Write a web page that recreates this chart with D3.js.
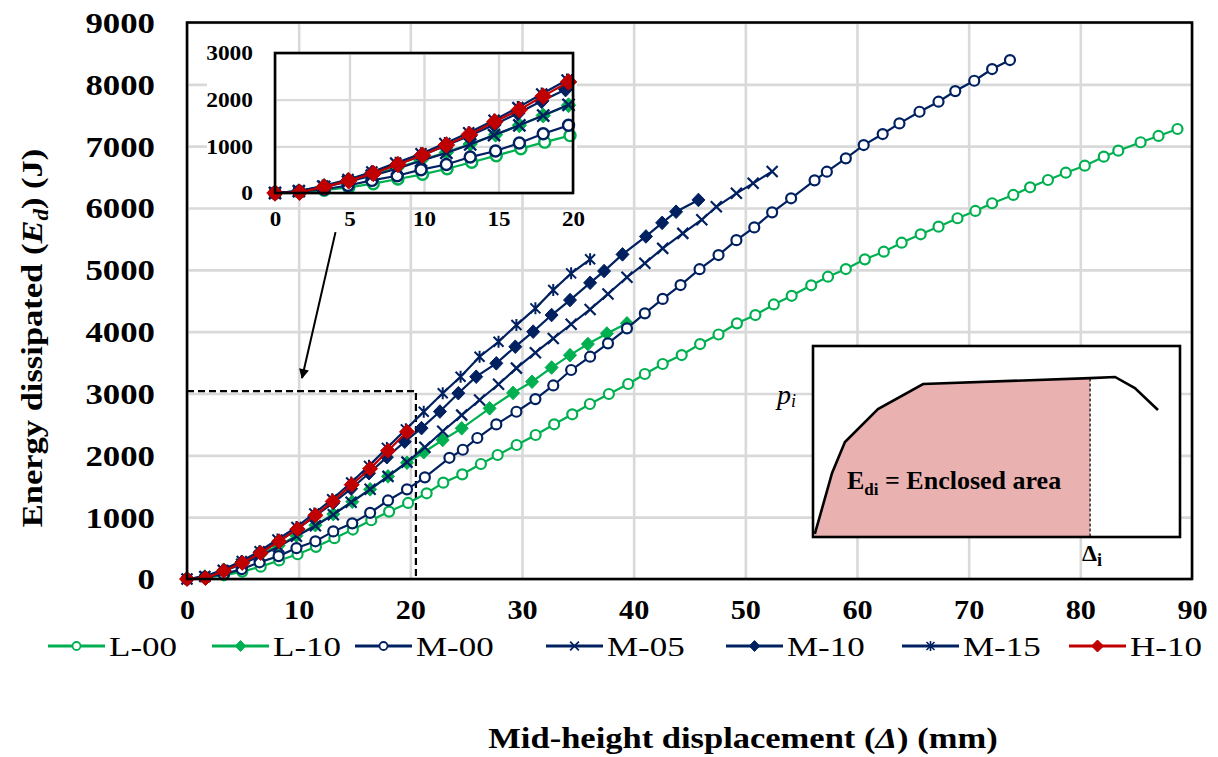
<!DOCTYPE html>
<html><head><meta charset="utf-8">
<script src="https://cdn.jsdelivr.net/npm/d3@7"></script>
<style>
body{margin:0;background:#fff;}
svg{display:block;}
text{font-family:"Liberation Serif","Times New Roman",serif;}
</style>
</head><body>
<svg id="c" width="1218" height="757"></svg>
<script>
// ---------------- DATA ----------------
const xTicks = [0,10,20,30,40,50,60,70,80,90];
const yTicks = [0,1000,2000,3000,4000,5000,6000,7000,8000,9000];
const insetXTicks = [0,5,10,15,20];
const insetYTicks = [0,1000,2000,3000];
const seriesNames = ["L-00","L-10","M-00","M-05","M-10","M-15","H-10"];

const dispL00 = [0,1.65,3.3,4.95,6.6,8.25,9.9,11.55,13.2,14.85,16.5,18.1,19.8,21.46,22.95,24.65,26.32,27.82,29.52,31.22,32.88,34.5,36.08,37.78,39.51,41.0,42.6,44.3,45.95,47.6,49.25,50.9,52.55,54.15,55.9,57.4,59.0,60.7,62.4,64.0,65.7,67.3,69.0,70.6,72.1,74.0,75.5,77.1,78.7,80.4,82.1,83.4,85.4,87.0,88.7];
const energyL00 = [0,20,60,120,200,300,400,520,660,800,950,1090,1230,1386,1558,1693,1860,2005,2167,2329,2502,2664,2830,2992,3154,3315,3477,3622,3800,3954,4135,4269,4440,4580,4750,4889,5013,5170,5293,5439,5575,5698,5834,5952,6077,6211,6335,6453,6571,6684,6830,6927,7063,7165,7278];

const dispL10 = [0,1.6,3.3,4.9,6.6,8.2,9.8,11.5,13.1,14.8,16.4,18.0,19.7,21.2,22.9,24.6,27.1,29.2,30.9,32.65,34.3,35.9,37.6,39.4];
const energyL10 = [0,40,150,270,400,540,700,870,1050,1250,1450,1660,1880,2050,2248,2437,2760,3010,3190,3420,3620,3800,3970,4135];

const dispM00 = [0,1.6,3.3,4.9,6.5,8.2,9.8,11.5,13.1,14.8,16.4,18.0,19.7,21.3,23.5,24.7,26.0,27.7,29.5,31.2,32.8,34.4,36.1,37.7,39.4,41.0,42.6,44.2,45.9,47.6,49.2,50.8,52.4,54.1,56.2,57.3,59.0,60.6,62.3,63.8,65.6,67.3,68.8,70.5,72.1,73.7];
const energyM00 = [0,30,80,160,270,370,500,610,770,900,1070,1270,1450,1644,1960,2090,2280,2500,2705,2910,3130,3380,3595,3811,4054,4296,4530,4754,5010,5239,5480,5686,5930,6157,6447,6587,6803,7018,7196,7368,7557,7719,7891,8058,8247,8393];

const dispM05 = [0,1.6,3.3,4.9,6.5,8.2,9.8,11.5,13.1,14.7,16.4,18.0,19.7,21.3,22.9,24.6,26.2,27.9,29.5,31.2,32.8,34.4,36.1,37.7,39.4,41.0,42.6,44.4,46.1,47.4,49.2,50.7,52.4];
const energyM05 = [0,40,130,240,370,520,690,860,1040,1240,1450,1660,1890,2130,2390,2650,2895,3150,3410,3660,3890,4120,4360,4610,4880,5105,5347,5590,5810,6020,6237,6399,6590];

const dispM10 = [0,1.6,3.3,4.9,6.5,8.2,9.8,11.4,13.1,14.7,16.3,17.9,19.5,21.0,22.65,24.3,25.9,27.7,29.4,31.0,32.65,34.3,36.1,37.35,39.0,41.1,42.55,43.8,45.8];
const energyM10 = [0,30,140,275,430,610,800,1010,1230,1460,1710,1970,2220,2440,2708,3005,3272,3488,3757,4000,4269,4511,4790,4980,5250,5540,5760,5940,6130];

const dispM15 = [0,1.6,3.2,4.9,6.5,8.1,9.8,11.4,13.0,14.7,16.3,17.9,19.6,21.2,22.9,24.5,26.2,27.9,29.5,31.2,32.8,34.4,36.1];
const energyM15 = [0,40,150,290,450,640,840,1060,1290,1560,1830,2120,2420,2705,3003,3272,3595,3837,4107,4377,4673,4943,5170];

const dispH10 = [0,1.65,3.3,4.95,6.6,8.25,9.9,11.5,13.05,14.75,16.4,18.0,19.7];
const energyH10 = [0,15,130,260,420,610,810,1030,1255,1525,1785,2075,2380];

// schematic curve in the lower-right inset (relative units 0-100)
const schemX = [0.5,5.2,8.7,17.7,30,75.5,82.3,87.7,94];
const schemY = [1.6,33.5,49.7,67,80.1,83.2,83.8,78,66.5];
const schemDeltaI = 75.5;

// zoom window & arrow (data units)
const zoomBoxX = 20.5, zoomBoxY = 3040;
const arrowFrom = [13.3, 5610], arrowTo = [10.3, 3250];

// ---------------- STYLE ----------------
const GREEN = "#00b050", NAVY = "#002060", RED = "#c00000", GRID = "#d9d9d9";
const styles = {
  "L-00": {color: GREEN, marker: "circle"},
  "L-10": {color: GREEN, marker: "diamond"},
  "M-00": {color: NAVY, marker: "circle"},
  "M-05": {color: NAVY, marker: "x"},
  "M-10": {color: NAVY, marker: "diamond"},
  "M-15": {color: NAVY, marker: "star"},
  "H-10": {color: RED, marker: "diamondBig"}
};
const seriesData = {
  "L-00": [dispL00, energyL00], "L-10": [dispL10, energyL10], "M-00": [dispM00, energyM00],
  "M-05": [dispM05, energyM05], "M-10": [dispM10, energyM10], "M-15": [dispM15, energyM15],
  "H-10": [dispH10, energyH10]
};

const svg = d3.select("#c");
const X = d3.scaleLinear().domain([0,90]).range([187,1192]);
const Y = d3.scaleLinear().domain([0,9000]).range([579,22.5]);

function stretch(sel, k){
  sel.each(function(){
    const w = this.getComputedTextLength();
    this.setAttribute("textLength", w*k);
    this.setAttribute("lengthAdjust","spacingAndGlyphs");
  });
}

function drawMarker(g, type, color, s){
  s = s || 1;
  if(type === "circle"){
    g.append("circle").attr("r",5*s).attr("fill","#fff").attr("stroke",color).attr("stroke-width",2.2*s);
  } else if(type === "diamond" || type === "diamondBig"){
    const a = (type==="diamondBig"?7.5:6.8)*s, b=(type==="diamondBig"?7.5:6.5)*s;
    g.append("path").attr("d",`M0,${-a}L${b},0L0,${a}L${-b},0Z`).attr("fill",color).attr("stroke",color).attr("stroke-width",1);
  } else if(type === "x"){
    const r=5.5*s;
    g.append("path").attr("d",`M${-r},${-r}L${r},${r}M${-r},${r}L${r},${-r}`).attr("stroke",color).attr("stroke-width",2.2*s).attr("fill","none");
  } else if(type === "star"){
    const r=5*s;
    g.append("path").attr("d",`M${-r},${-r}L${r},${r}M${-r},${r}L${r},${-r}M0,${-r-1}L0,${r+1}`).attr("stroke",color).attr("stroke-width",2*s).attr("fill","none");
  }
}

// ---------------- GRID ----------------
svg.append("g").attr("transform",`translate(0,${Y(0)})`)
  .call(d3.axisBottom(X).tickValues(xTicks).tickSize(-(Y(0)-Y(9000))).tickFormat(""))
  .call(g=>g.select(".domain").remove())
  .selectAll("line").attr("stroke",GRID).attr("stroke-width",2.6);
svg.append("g").attr("transform",`translate(${X(0)},0)`)
  .call(d3.axisLeft(Y).tickValues(yTicks).tickSize(-(X(90)-X(0))).tickFormat(""))
  .call(g=>g.select(".domain").remove())
  .selectAll("line").attr("stroke",GRID).attr("stroke-width",2.6);

// ---------------- AXIS LABELS ----------------
const xAx = svg.append("g").attr("transform",`translate(0,${Y(0)})`)
  .call(d3.axisBottom(X).tickValues(xTicks).tickSize(0).tickPadding(20).tickFormat(d3.format("d")));
xAx.select(".domain").remove();
xAx.selectAll("text").attr("font-family","Liberation Serif").attr("font-weight","bold").attr("font-size",28).attr("fill","#000").call(stretch,1.08);

const yAx = svg.append("g").attr("transform",`translate(${X(0)},0)`)
  .call(d3.axisLeft(Y).tickValues(yTicks).tickSize(0).tickPadding(32).tickFormat(d3.format("d")));
yAx.select(".domain").remove();
yAx.selectAll("text").attr("font-family","Liberation Serif").attr("font-weight","bold").attr("font-size",29).attr("fill","#000").attr("dy","0.34em").call(stretch,1.2);

// ---------------- ZOOM BOX + ARROW ----------------
svg.append("path")
  .attr("d",`M${X(0)},${Y(zoomBoxY)}H${X(zoomBoxX)}V${Y(0)}`)
  .attr("fill","none").attr("stroke","#000").attr("stroke-width",2.2).attr("stroke-dasharray","7,4");

svg.append("defs").append("marker").attr("id","ah").attr("viewBox","0 0 10 10")
  .attr("refX",9).attr("refY",5).attr("markerWidth",5.5).attr("markerHeight",5)
  .attr("markerUnits","strokeWidth").attr("orient","auto")
  .append("path").attr("d","M0,0L10,5L0,10Z").attr("fill","#000");
svg.append("line").attr("x1",X(arrowFrom[0])).attr("y1",Y(arrowFrom[1]))
  .attr("x2",X(arrowTo[0])).attr("y2",Y(arrowTo[1]))
  .attr("stroke","#000").attr("stroke-width",2).attr("marker-end","url(#ah)");

// ---------------- SERIES ----------------
function drawSeries(parent, xs, ys, filterMax, ms){
  seriesNames.forEach(name=>{
    const [dx, dy] = seriesData[name];
    const st = styles[name];
    let pts = dx.map((d,i)=>[d, dy[i]]);
    if(filterMax!=null) pts = pts.filter(p=>p[0] <= filterMax);
    const line = d3.line().x(p=>xs(p[0])).y(p=>ys(p[1]));
    parent.append("path").attr("d",line(pts)).attr("fill","none").attr("stroke",st.color).attr("stroke-width",2.2);
    pts.forEach(p=>{
      const g = parent.append("g").attr("transform",`translate(${xs(p[0])},${ys(p[1])})`);
      drawMarker(g, st.marker, st.color, ms);
    });
  });
}
drawSeries(svg.append("g"), X, Y, null, 1);

// frame
svg.append("rect").attr("x",X(0)).attr("y",Y(9000)).attr("width",X(90)-X(0)).attr("height",Y(0)-Y(9000))
  .attr("fill","none").attr("stroke","#000").attr("stroke-width",2.6);

// ---------------- TOP-LEFT INSET ----------------
const Xi = d3.scaleLinear().domain([0,20]).range([275,573]);
const Yi = d3.scaleLinear().domain([0,3000]).range([193,53]);
const ins = svg.append("g");
ins.append("rect").attr("x",207).attr("y",53).attr("width",Xi(20)-207+4).attr("height",Yi(0)-53).attr("fill","#fff");
ins.append("rect").attr("x",Xi(0)).attr("y",Yi(3000)).attr("width",Xi(20)-Xi(0)).attr("height",Yi(0)-Yi(3000)).attr("fill","#fff");
ins.append("g").attr("transform",`translate(0,${Yi(0)})`)
  .call(d3.axisBottom(Xi).tickValues(insetXTicks).tickSize(-(Yi(0)-Yi(3000))).tickFormat(""))
  .call(g=>g.select(".domain").remove())
  .selectAll("line").attr("stroke",GRID).attr("stroke-width",2.4);
ins.append("g").attr("transform",`translate(${Xi(0)},0)`)
  .call(d3.axisLeft(Yi).tickValues(insetYTicks).tickSize(-(Xi(20)-Xi(0))).tickFormat(""))
  .call(g=>g.select(".domain").remove())
  .selectAll("line").attr("stroke",GRID).attr("stroke-width",2.4);
ins.append("clipPath").attr("id","ic").append("rect")
  .attr("x",Xi(0)-10).attr("y",Yi(3000)).attr("width",Xi(20)-Xi(0)+20).attr("height",Yi(0)-Yi(3000)+10);
drawSeries(ins.append("g").attr("clip-path","url(#ic)"), Xi, Yi, 20.5, 1.1);
ins.append("rect").attr("x",Xi(0)).attr("y",Yi(3000)).attr("width",Xi(20)-Xi(0)).attr("height",Yi(0)-Yi(3000))
  .attr("fill","none").attr("stroke","#000").attr("stroke-width",2.6);
const ixAx = ins.append("g").attr("transform",`translate(0,${Yi(0)})`)
  .call(d3.axisBottom(Xi).tickValues(insetXTicks).tickSize(0).tickPadding(19).tickFormat(d3.format("d")));
ixAx.select(".domain").remove();
ixAx.selectAll("text").attr("font-family","Liberation Serif").attr("font-weight","bold").attr("font-size",20).attr("fill","#000").call(stretch,1.15);
const iyAx = ins.append("g").attr("transform",`translate(${Xi(0)},0)`)
  .call(d3.axisLeft(Yi).tickValues(insetYTicks).tickSize(0).tickPadding(22).tickFormat(d3.format("d")));
iyAx.select(".domain").remove();
iyAx.selectAll("text").attr("font-family","Liberation Serif").attr("font-weight","bold").attr("font-size",20).attr("fill","#000").attr("dy","0.34em").call(stretch,1.17);

// ---------------- LOWER-RIGHT SCHEMATIC INSET ----------------
const Xs = d3.scaleLinear().domain([0,100]).range([813,1180]);
const Ys = d3.scaleLinear().domain([0,100]).range([537,346]);
const sch = svg.append("g");
sch.append("rect").attr("x",Xs(0)).attr("y",Ys(100)).attr("width",Xs(100)-Xs(0)).attr("height",Ys(0)-Ys(100)).attr("fill","#fff");
const schPts = schemX.map((d,i)=>[d, schemY[i]]);
const fillPts = schPts.filter(p=>p[0] <= schemDeltaI);
const areaPts = [[fillPts[0][0],0], ...fillPts, [schemDeltaI,0]];
sch.append("path").attr("d", d3.line().x(p=>Xs(p[0])).y(p=>Ys(p[1]))(areaPts)+"Z").attr("fill","#eab1b1");
sch.append("path").attr("d", d3.line().x(p=>Xs(p[0])).y(p=>Ys(p[1]))(schPts)).attr("fill","none").attr("stroke","#000").attr("stroke-width",2.6);
sch.append("line").attr("x1",Xs(schemDeltaI)).attr("x2",Xs(schemDeltaI)).attr("y1",Ys(83)).attr("y2",Ys(0))
  .attr("stroke","#000").attr("stroke-width",1.2).attr("stroke-dasharray","3,2");
sch.append("rect").attr("x",Xs(0)).attr("y",Ys(100)).attr("width",Xs(100)-Xs(0)).attr("height",Ys(0)-Ys(100))
  .attr("fill","none").attr("stroke","#000").attr("stroke-width",2.6);
const eTxt = sch.append("text").attr("x",847).attr("y",489).attr("font-weight","bold").attr("font-size",26).attr("fill","#000");
eTxt.append("tspan").text("E");
eTxt.append("tspan").attr("font-size",17).attr("dy",6).text("di");
eTxt.append("tspan").attr("dy",-6).text(" = Enclosed area");
const pTxt = svg.append("text").attr("x",777).attr("y",404).attr("font-style","italic").attr("font-size",28).attr("fill","#000");
pTxt.append("tspan").text("p");
pTxt.append("tspan").attr("font-size",18).attr("dy",3).text("i");
const dTxt = svg.append("text").attr("x",1082).attr("y",561).attr("font-weight","bold").attr("font-size",24).attr("fill","#000");
dTxt.append("tspan").text("Δ");
dTxt.append("tspan").attr("font-size",18).attr("dy",5).text("i");

// ---------------- LEGEND ----------------
const legendX = [48,212,355,546,726,902,1069];
const legY = 646;
seriesNames.forEach((name,i)=>{
  const st = styles[name];
  const g = svg.append("g").attr("transform",`translate(${legendX[i]},${legY})`);
  g.append("line").attr("x1",0).attr("x2",57).attr("y1",0).attr("y2",0).attr("stroke",st.color).attr("stroke-width",3);
  const mg = g.append("g").attr("transform","translate(28.5,0)");
  drawMarker(mg, st.marker, st.color, 0.8);
  g.append("text").attr("x",61).attr("y",10).attr("font-size",28).attr("fill","#000").text(name).call(stretch,1.25);
});

// ---------------- AXIS TITLES ----------------
const xt = svg.append("text").attr("x",743).attr("y",748).attr("text-anchor","middle").attr("font-weight","bold").attr("font-size",30).attr("fill","#000");
xt.append("tspan").text("Mid-height displacement (");
xt.append("tspan").attr("font-style","italic").text("Δ");
xt.append("tspan").text(") (mm)");
xt.call(stretch,1.15);

const yt = svg.append("text").attr("transform","translate(42,338) rotate(-90)").attr("text-anchor","middle").attr("font-weight","bold").attr("font-size",30).attr("fill","#000");
yt.append("tspan").text("Energy dissipated (");
yt.append("tspan").attr("font-style","italic").text("E");
yt.append("tspan").attr("font-style","italic").attr("font-size",20).attr("dy",6).text("d");
yt.append("tspan").attr("dy",-6).text(") (J)");
yt.call(stretch,1.15);
</script>
</body></html>
